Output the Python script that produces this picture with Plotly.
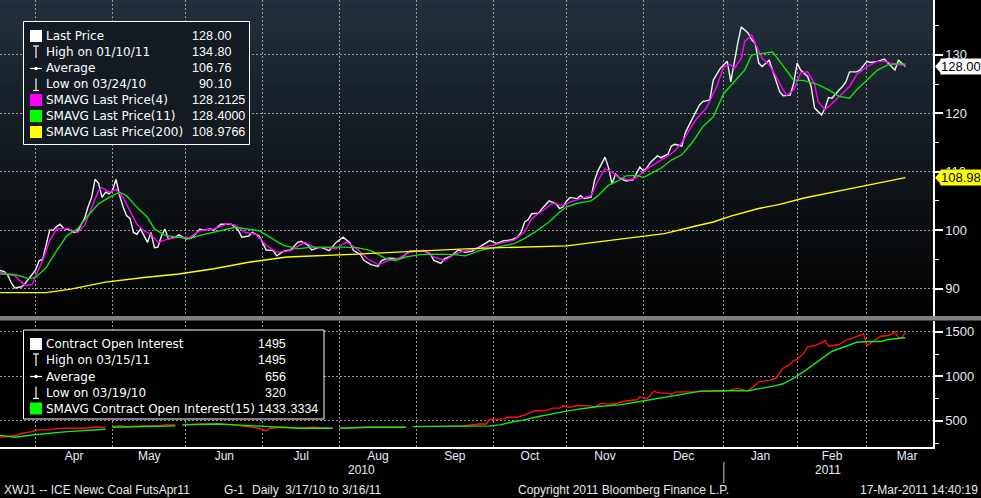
import plotly.graph_objects as go
import pandas as pd

# ------------------------------------------------------------------ data
first_day = "2010-03-17"
last_day = "2011-03-16"

# (trading-day number counted from 17 Mar 2010, value)
price_pts = [
    (0, 93.2), (2, 92.9), (3, 92.3), (4, 91.0), (5, 90.1), (6, 90.2), (7, 90.3), (8, 90.9),
    (10, 92.5), (11, 93.2), (12, 94.8), (13, 95.0), (14, 97.5), (15, 100.0), (16, 100.0),
    (17, 100.6), (18, 101.0), (19, 100.3), (21, 100.0), (22, 99.6), (23, 99.8), (24, 100.8),
    (25, 102.0), (26, 104.0), (27, 105.6), (28, 108.7), (29, 108.0), (30, 105.6), (31, 106.5),
    (32, 106.2), (33, 106.8), (34, 108.7), (35, 106.0), (36, 104.0), (37, 102.5), (38, 102.0),
    (39, 99.6), (40, 99.3), (41, 100.2), (43, 97.9), (44, 99.6), (45, 97.0), (46, 97.1),
    (47, 99.0), (48, 100.2), (49, 98.5), (51, 98.8), (52, 99.2), (54, 98.5), (56, 98.8),
    (58, 100.2), (59, 100.0), (61, 100.2), (62, 100.0), (64, 101.0), (65, 101.0), (67, 101.0),
    (69, 100.0), (70, 98.8), (72, 99.0), (73, 99.6), (75, 99.0), (76, 97.9), (77, 96.6),
    (79, 96.5), (80, 95.6), (82, 96.4), (84, 96.6), (86, 97.9), (87, 98.1), (89, 97.4),
    (90, 96.6), (92, 97.0), (93, 97.0), (95, 96.5), (96, 97.2), (97, 97.9), (99, 98.8),
    (101, 97.8), (102, 96.5), (104, 95.8), (105, 94.8), (107, 94.1), (109, 93.8), (110, 94.8),
    (112, 95.2), (113, 95.2), (115, 95.1), (116, 95.4), (118, 96.4), (120, 96.4), (122, 96.5),
    (124, 95.9), (125, 94.8), (127, 94.3), (128, 95.1), (130, 95.6), (132, 96.6), (134, 96.2),
    (136, 96.4), (137, 96.8), (138, 97.1), (141, 98.2), (143, 97.7), (145, 98.2), (147, 98.3),
    (149, 98.8), (150, 99.7), (151, 101.4), (152, 101.8), (153, 102.8), (155, 102.9),
    (156, 103.7), (157, 104.4), (158, 105.0), (160, 104.5), (161, 103.7), (162, 104.0),
    (163, 105.0), (164, 105.6), (166, 105.4), (167, 105.9), (168, 105.4), (170, 105.6),
    (171, 108.5), (172, 110.2), (174, 112.5), (175, 110.7), (176, 107.9), (177, 109.6),
    (178, 109.0), (180, 108.4), (182, 108.6), (184, 110.8), (185, 110.1), (186, 110.7),
    (187, 111.6), (189, 112.7), (190, 112.4), (192, 113.0), (193, 114.4), (194, 114.7),
    (196, 114.4), (197, 116.7), (198, 118.0), (199, 119.1), (201, 121.4), (202, 122.0),
    (204, 122.3), (205, 125.7), (207, 127.7), (208, 128.3), (209, 128.9), (210, 125.4),
    (211, 129.1), (212, 132.0), (213, 134.8), (215, 133.7), (216, 132.6), (217, 132.0),
    (218, 128.6), (219, 128.0), (221, 129.1), (222, 127.4), (223, 125.4), (224, 123.7),
    (225, 123.0), (227, 123.1), (228, 125.1), (229, 128.6), (230, 127.4), (232, 126.3),
    (233, 124.6), (234, 120.9), (236, 119.7), (237, 120.9), (238, 122.7), (239, 122.6),
    (241, 124.0), (242, 124.6), (243, 125.4), (244, 127.1), (246, 127.1), (247, 127.4),
    (249, 128.9), (250, 128.7), (252, 128.9), (254, 129.3), (255, 128.6), (257, 127.4),
    (258, 129.1), (259, 128.6), (260, 128.0),
]

sma4_pts = [
    (0, 92.9), (5, 92.2), (8, 90.5), (10, 90.7), (11, 92.2), (13, 94.8), (15, 98.2), (17, 100.2),
    (20, 100.3), (23, 99.6), (25, 100.8), (27, 103.9), (29, 106.8), (30, 107.3), (32, 106.5),
    (34, 107.0), (36, 105.6), (38, 103.3), (40, 101.0), (42, 99.9), (44, 99.3), (46, 97.9),
    (49, 98.5), (52, 98.8), (55, 98.7), (58, 99.9), (62, 100.2), (66, 101.1), (68, 100.9),
    (71, 99.6), (74, 99.3), (77, 97.4), (80, 96.2), (84, 96.5), (88, 97.9), (91, 97.0),
    (95, 97.0), (97, 96.8), (100, 98.0), (103, 96.8), (106, 95.1), (109, 94.1), (112, 94.8),
    (115, 95.2), (118, 96.2), (122, 96.5), (125, 95.4), (128, 94.8), (131, 95.9), (134, 96.5),
    (138, 96.9), (143, 97.6), (148, 98.3), (151, 99.7), (153, 102.0), (157, 103.7),
    (159, 104.6), (162, 104.2), (164, 104.8), (167, 105.4), (170, 105.9), (172, 108.5),
    (174, 110.5), (176, 109.9), (178, 109.0), (181, 108.6), (183, 109.0), (186, 110.5),
    (189, 111.6), (192, 112.7), (194, 113.6), (196, 115.0), (198, 117.0), (200, 118.9),
    (203, 120.9), (206, 124.6), (208, 128.0), (210, 128.3), (211, 127.7), (213, 129.4),
    (214, 132.3), (216, 133.4), (217, 132.0), (219, 129.4), (221, 128.3), (223, 126.3),
    (225, 124.0), (226, 123.1), (228, 124.0), (230, 126.9), (232, 127.1), (234, 125.1),
    (235, 122.0), (237, 120.6), (239, 121.7), (241, 122.9), (244, 124.6), (246, 126.6),
    (249, 128.0), (252, 128.9), (254, 128.9), (256, 128.6), (258, 128.3), (260, 128.2),
]

sma11_pts = [
    (0, 92.5), (5, 92.4), (9, 91.7), (11, 91.9), (14, 93.6), (17, 96.5), (20, 99.1), (23, 100.2),
    (26, 102.5), (29, 104.5), (32, 105.6), (35, 106.5), (37, 105.9), (40, 103.9), (43, 102.2),
    (45, 100.2), (48, 99.1), (52, 98.7), (55, 98.5), (58, 99.1), (62, 99.6), (66, 100.2),
    (68, 100.5), (71, 100.2), (75, 99.9), (78, 98.8), (82, 97.4), (86, 96.8), (90, 97.1),
    (98, 97.1), (103, 97.0), (107, 96.5), (111, 95.2), (114, 94.8), (117, 95.4), (121, 95.8),
    (126, 95.9), (131, 95.8), (134, 95.6), (138, 96.5), (144, 97.2), (148, 97.7), (151, 98.6),
    (154, 99.7), (158, 101.4), (161, 103.1), (163, 104.0), (166, 104.6), (170, 105.0),
    (172, 105.9), (175, 107.7), (178, 108.5), (180, 109.3), (183, 109.4), (185, 109.0),
    (188, 109.9), (190, 110.6), (193, 112.0), (196, 112.9), (199, 115.0), (202, 117.7),
    (205, 119.4), (208, 123.4), (211, 125.4), (214, 127.4), (216, 130.0), (219, 130.3),
    (222, 130.5), (223, 129.7), (226, 127.4), (228, 125.7), (231, 125.6), (235, 124.9),
    (238, 124.0), (241, 122.9), (244, 122.6), (246, 124.0), (249, 125.7), (252, 127.4),
    (255, 128.3), (258, 128.5), (260, 128.4),
]

sma200_pts = [
    (0, 89.3), (14, 89.3), (21, 89.9), (31, 91.1), (42, 91.9), (52, 92.5), (62, 93.4),
    (72, 94.5), (83, 95.4), (93, 95.6), (103, 95.9), (113, 96.2), (123, 96.5), (134, 96.8),
    (144, 97.0), (153, 97.1), (163, 97.3), (172, 98.0), (181, 98.7), (191, 99.4), (200, 100.7),
    (205, 101.4), (210, 102.4), (218, 103.7), (224, 104.4), (231, 105.5), (245, 107.2),
    (260, 108.98),
]

oi_pts = [
    (0, 323), (2, 320), (6, 342), (7, 361), (10, 380), (11, 399), (15, 399), (16, 410),
    (20, 417), (25, 417), (27, 429), (31, 429), (32, None), (33, 436), (35, 447), (37, 436),
    (41, 444), (46, 444), (48, 455), (51, 455), (52, None), (53, 455), (58, 466), (62, 466),
    (64, 466), (68, 455), (71, 436), (75, 417), (77, 387), (78, 417), (82, 429), (87, 417),
    (90, 429), (96, 417), (97, None), (98, 417), (106, 429), (117, 429), (118, None),
    (119, 436), (125, 436), (133, 444), (138, 466), (140, 466), (141, 519), (145, 523),
    (146, 541), (149, 541), (151, 568), (152, 587), (154, 617), (157, 613), (159, 643),
    (161, 643), (162, 669), (164, 654), (166, 673), (170, 669), (171, 654), (173, 699),
    (175, 688), (177, 692), (179, 718), (181, 729), (183, 737), (184, 767), (186, 752),
    (188, 831), (190, 812), (192, 812), (193, 797), (194, 823), (200, 827), (202, 838),
    (205, 831), (208, 831), (211, 857), (212, 868), (214, 842), (215, 838), (216, 868),
    (218, 936), (219, 944), (221, 955), (223, 981), (225, 1094), (227, 1132), (228, 1180),
    (229, 1188), (231, 1263), (232, 1331), (234, 1346), (236, 1376), (237, 1402), (238, 1338),
    (241, 1357), (242, 1383), (243, 1406), (245, 1432), (248, 1477), (249, 1346), (251, 1402),
    (253, 1451), (255, 1459), (257, 1496), (258, 1432), (259, 1432), (260, 1495),
]

oi_sma15_pts = [
    (0, 342), (5, 316), (10, 342), (20, 380), (31, 406), (32, None), (33, 429), (44, 436),
    (51, 444), (52, None), (53, 455), (63, 466), (68, 455), (77, 436), (87, 417), (96, 417),
    (97, None), (98, 417), (106, 429), (117, 429), (118, None), (119, 436), (134, 436),
    (141, 444), (144, 455), (148, 493), (151, 511), (155, 549), (160, 587), (165, 624),
    (172, 662), (178, 680), (184, 718), (188, 744), (192, 774), (196, 793), (201, 831),
    (207, 838), (215, 838), (219, 868), (222, 887), (225, 917), (228, 981), (231, 1056),
    (235, 1169), (239, 1282), (243, 1338), (246, 1383), (250, 1391), (253, 1391), (255, 1413),
    (258, 1425), (260, 1433),
]

month_labels = ["Apr", "May", "Jun", "Jul", "Aug", "Sep", "Oct", "Nov", "Dec", "Jan", "Feb", "Mar"]
month_starts = ["2010-04-01", "2010-05-01", "2010-06-01", "2010-07-01", "2010-08-01",
                "2010-09-01", "2010-10-01", "2010-11-01", "2010-12-01", "2011-01-01",
                "2011-02-01", "2011-03-01", "2011-04-01"]
year_labels = ["2010", "2011"]
year_break = "2011-01-01"

price_ticks = [90, 100, 110, 120, 130]
price_minor = [95, 105, 115, 125, 135]
oi_ticks = [500, 1000, 1500]
oi_minor = [250, 750, 1250]

top_legend_labels = ["Last Price", "High on 01/10/11", "Average", "Low on 03/24/10",
                     "SMAVG Last Price(4)", "SMAVG Last Price(11)", "SMAVG Last Price(200)"]
top_legend_values = ["128.00", "134.80", "106.76", "90.10", "128.2125", "128.4000", "108.9766"]
top_legend_icons = ["square", "high", "avg", "low", "square", "square", "square"]
top_legend_colors = ["#ffffff", "#ffffff", "#ffffff", "#ffffff", "#ff00ff", "#00ff00", "#ffff00"]

bot_legend_labels = ["Contract Open Interest", "High on 03/15/11", "Average", "Low on 03/19/10",
                     "SMAVG Contract Open Interest(15)"]
bot_legend_values = ["1495", "1495", "656", "320", "1433.3334"]
bot_legend_icons = ["square", "high", "avg", "low", "square"]
bot_legend_colors = ["#ffffff", "#ffffff", "#ffffff", "#ffffff", "#00ff00"]

last_price = 128.00
last_sma200 = 108.98

footer_left = ["XWJ1 -- ICE Newc Coal FutsApr11", "G-1", "Daily  3/17/10 to 3/16/11"]
footer_center = "Copyright 2011 Bloomberg Finance L.P."
footer_right = "17-Mar-2011 14:40:19"

# ------------------------------------------------------------------ geometry / style
W, H = 981, 498
PW, PH = 933, 447           # plotting area (margins: r=48, b=51)
TOP_BOTTOM_PX = 316         # bottom of price panel
BOT_TOP_PX = 320.5          # top of open-interest panel
GRID = "#9a9a9a"
DASH = "2px,2px"
AXFONT = dict(family="Liberation Sans, Arial", size=13, color="#e2eaf6")
TXT = "DejaVu Sans"
NUM = "Liberation Sans, Arial"


def xp(px):
    return px / PW


def yp(py):
    return (PH - py) / PH


def bidx(d):
    """trading-day number of the first weekday on/after date d"""
    return len(pd.bdate_range(first_day, d, inclusive="left"))


def split(pts):
    return [p[0] for p in pts], [p[1] for p in pts]


month_idx = [bidx(d) for d in month_starts]
month_mid = [(a + b) / 2 for a, b in zip(month_idx[:-1], month_idx[1:])]
grid_idx = month_idx[:-1]
x_range = [0.78, 267.9]
jan_idx = bidx(year_break)

fig = go.Figure()

# price panel
for pts, col, w in [(price_pts, "#f0f0f0", 1.4), (sma4_pts, "#ff00ff", 1.4),
                    (sma11_pts, "#12dd12", 1.4), (sma200_pts, "#ffff00", 1.4)]:
    xs, ys = split(pts)
    fig.add_trace(go.Scatter(x=xs, y=ys, mode="lines", line=dict(color=col, width=w),
                             xaxis="x", yaxis="y", hoverinfo="skip", connectgaps=False))

# open interest panel
for pts, col in [(oi_pts, "#ff1010"), (oi_sma15_pts, "#10ee10")]:
    xs, ys = split(pts)
    fig.add_trace(go.Scatter(x=xs, y=ys, mode="lines", line=dict(color=col, width=1.4),
                             xaxis="x2", yaxis="y2", hoverinfo="skip", connectgaps=False))

shapes = []
# gradient background of price panel
NB = 48
y_lo, y_hi = yp(TOP_BOTTOM_PX), 1.0
top_rgb = (35, 48, 60)
for i in range(NB):
    t = (i + 0.5) / NB  # 0 at top
    f = 1 - t
    col = "rgb(%d,%d,%d)" % tuple(int(round(c * f + 1 * (1 - f))) for c in top_rgb)
    a = y_hi - (y_hi - y_lo) * i / NB
    b = y_hi - (y_hi - y_lo) * (i + 1) / NB
    shapes.append(dict(type="rect", xref="paper", yref="paper", x0=0, x1=1, y0=b, y1=a + 0.001,
                       fillcolor=col, line=dict(width=0), layer="below"))

# grey separator between panels
shapes.append(dict(type="rect", xref="paper", yref="paper", x0=0, x1=W / PW,
                   y0=yp(BOT_TOP_PX), y1=yp(TOP_BOTTOM_PX), fillcolor="#808080",
                   line=dict(width=0), layer="above"))

# year separator below the axis
shapes.append(dict(type="line", xref="x2", yref="paper", x0=jan_idx, x1=jan_idx,
                   y0=yp(462), y1=yp(483), line=dict(color="#8a8a8a", width=1.5)))

annotations = []


def legend(box, rows_y, labels, values, icons, colors, x_dec, fill):
    x0, y0, x1, y1 = box
    shapes.append(dict(type="rect", xref="paper", yref="paper", x0=xp(x0), x1=xp(x1),
                       y0=yp(y1), y1=yp(y0), fillcolor=fill,
                       line=dict(color="#ffffff", width=1), layer="above"))
    for cy, lab, val, ic, col in zip(rows_y, labels, values, icons, colors):
        if ic == "square":
            shapes.append(dict(type="rect", xref="paper", yref="paper", x0=xp(30), x1=xp(42),
                               y0=yp(cy + 6), y1=yp(cy - 6), fillcolor=col,
                               line=dict(width=0), layer="above"))
        else:
            ln = dict(color=col, width=1.2)
            if ic in ("high", "low"):
                shapes.append(dict(type="line", xref="paper", yref="paper", x0=xp(36), x1=xp(36),
                                   y0=yp(cy + 6), y1=yp(cy - 6), line=ln, layer="above"))
                yy = cy - 6 if ic == "high" else cy + 6
                shapes.append(dict(type="line", xref="paper", yref="paper", x0=xp(33), x1=xp(39),
                                   y0=yp(yy), y1=yp(yy), line=ln, layer="above"))
            else:
                shapes.append(dict(type="line", xref="paper", yref="paper", x0=xp(30), x1=xp(42),
                                   y0=yp(cy), y1=yp(cy), line=ln, layer="above"))
                shapes.append(dict(type="circle", xref="paper", yref="paper", x0=xp(34.3),
                                   x1=xp(37.7), y0=yp(cy + 1.7), y1=yp(cy - 1.7),
                                   fillcolor=col, line=dict(width=0), layer="above"))
        annotations.append(dict(text=lab, xref="paper", yref="paper", x=xp(44), y=yp(cy),
                                xanchor="left", yanchor="middle", showarrow=False,
                                font=dict(family=TXT, size=12, color="#ffffff")))
        ip, dot, fp = val.partition(".")
        annotations.append(dict(text=ip, xref="paper", yref="paper", x=xp(x_dec), y=yp(cy),
                                xanchor="right", yanchor="middle", showarrow=False,
                                borderpad=0, font=dict(family=NUM, size=12.5, color="#ffffff")))
        if dot:
            annotations.append(dict(text="." + fp, xref="paper", yref="paper", x=xp(x_dec - 1),
                                    y=yp(cy), xanchor="left", yanchor="middle", showarrow=False,
                                    borderpad=0,
                                    font=dict(family=NUM, size=12.5, color="#ffffff")))


legend((23.5, 21.5, 249.5, 144.5), [36, 52, 68.5, 84.5, 100, 116, 132],
       top_legend_labels, top_legend_values, top_legend_icons, top_legend_colors, 214, "#131a21")
legend((23.5, 330, 324, 419), [344, 360, 376.5, 392.5, 408.5],
       bot_legend_labels, bot_legend_values, bot_legend_icons, bot_legend_colors, 287, "#000000")

# last-value tags on the right axis
for val, col in [(last_price, "#ffffff"), (last_sma200, "#ffff00")]:
    shapes.append(dict(type="path", xref="paper", yref="y", xsizemode="pixel", ysizemode="pixel",
                       xanchor=1, yanchor=val, path="M 2,0 L 9,8 L 9,-8 Z",
                       fillcolor=col, line=dict(width=0), layer="above"))
    annotations.append(dict(text="%.2f" % val, xref="paper", yref="y", x=xp(940), y=val,
                            xanchor="left", yanchor="middle", showarrow=False, bgcolor=col,
                            borderpad=0, font=dict(family=NUM, size=13, color="#000000")))

# year labels
annotations.append(dict(text=year_labels[0], xref="x2", yref="paper",
                        x=(x_range[0] + jan_idx) / 2, y=yp(470.5), showarrow=False,
                        xanchor="center", yanchor="middle",
                        font=dict(family=NUM, size=12, color="#e8eef8")))
annotations.append(dict(text=year_labels[1], xref="x2", yref="paper",
                        x=(x_range[1] + jan_idx) / 2, y=yp(470.5), showarrow=False,
                        xanchor="center", yanchor="middle",
                        font=dict(family=NUM, size=12, color="#e8eef8")))

# footer
FOOT = dict(family=NUM, size=12, color="#e8e8e8")
for txt, x in zip(footer_left, [2, 222, 250]):
    annotations.append(dict(text=txt, xref="paper", yref="paper", x=xp(x), y=yp(490),
                            xanchor="left", yanchor="middle", showarrow=False, font=FOOT))
annotations.append(dict(text=footer_center, xref="paper", yref="paper", x=xp(516), y=yp(490),
                        xanchor="left", yanchor="middle", showarrow=False, font=FOOT))
annotations.append(dict(text=footer_right, xref="paper", yref="paper", x=xp(980), y=yp(490),
                        xanchor="right", yanchor="middle", showarrow=False, font=FOOT))

minor_x = dict(tickmode="array", tickvals=grid_idx, showgrid=True, gridcolor=GRID,
               griddash=DASH, gridwidth=1, ticks="")

fig.update_layout(
    width=W, height=H,
    margin=dict(l=0, r=W - PW, t=0, b=H - PH, pad=0),
    paper_bgcolor="#000000", plot_bgcolor="#000000",
    showlegend=False, hovermode=False,
    xaxis=dict(domain=[0, 1], range=x_range, anchor="y", showticklabels=False,
               tickmode="array", tickvals=[], showgrid=False, zeroline=False, showline=False,
               ticks="", minor=minor_x),
    xaxis2=dict(domain=[0, 1], range=x_range, anchor="y2", matches="x",
                tickmode="array", tickvals=month_mid, ticktext=month_labels, ticks="",
                ticklabelstandoff=-3,
                showgrid=False, zeroline=False, showline=True, linecolor="#ffffff",
                linewidth=1.5, tickfont=dict(family=NUM, size=12, color="#e8eef8"),
                minor=minor_x),
    yaxis=dict(domain=[yp(TOP_BOTTOM_PX), 1], range=[85.3, 139.4], anchor="x", side="right",
               tickmode="array", tickvals=price_ticks, showgrid=True, gridcolor=GRID,
               griddash=DASH, gridwidth=1, zeroline=False, showline=True,
               linecolor="#ffffff", linewidth=1.5, ticks="outside", ticklen=8, tickwidth=2,
               tickcolor="#ffffff", tickfont=AXFONT,
               minor=dict(tickmode="array", tickvals=price_minor, ticks="outside",
                          ticklen=4, tickcolor="#ffffff", tickwidth=1, showgrid=False)),
    yaxis2=dict(domain=[0, yp(BOT_TOP_PX)], range=[207, 1627], anchor="x2", side="right",
                tickmode="array", tickvals=oi_ticks, showgrid=True, gridcolor=GRID,
                griddash=DASH, gridwidth=1, zeroline=False, showline=True,
                linecolor="#ffffff", linewidth=1.5, ticks="outside", ticklen=8, tickwidth=2,
                tickcolor="#ffffff", tickfont=AXFONT,
                minor=dict(tickmode="array", tickvals=oi_minor, ticks="outside",
                           ticklen=4, tickcolor="#ffffff", tickwidth=1, showgrid=False)),
    shapes=shapes,
    annotations=annotations,
)

fig.write_html("out.html", config={"displayModeBar": False},
               post_script="document.body.style.margin='0';document.body.style.overflow='hidden';")
